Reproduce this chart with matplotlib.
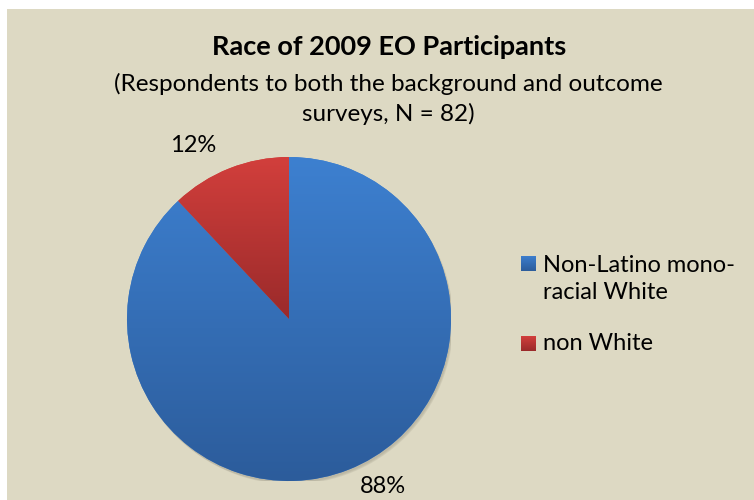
import matplotlib.pyplot as plt
import numpy as np
from matplotlib.colors import LinearSegmentedColormap
from matplotlib.patches import Rectangle, Circle

plt.rcParams['font.family'] = ['Lato', 'DejaVu Sans']

labels = ['Non-Latino mono-\nracial White', 'non White']
shares = [88, 12]
top_colors = ['#3d80d0', '#d23f3c']
bottom_colors = ['#2c5c9b', '#9a2a2a']

title = 'Race of 2009 EO Participants'
subtitle = '(Respondents to both the background and outcome\nsurveys, N = 82)'

W, H = 754, 500
fig = plt.figure(figsize=(W / 100, H / 100), dpi=100, facecolor='white')

# chart area background
bg = fig.add_axes([7 / W, 0, 1 - 7 / W, 1 - 9 / H])
bg.set_facecolor('#ddd9c3')
bg.set_xticks([])
bg.set_yticks([])
for s in bg.spines.values():
    s.set_visible(False)

cx, cy, r = 289, 319, 162
ax = fig.add_axes([(cx - r) / W, (H - cy - r) / H, 2 * r / W, 2 * r / H])
ax.set_xlim(-1.0, 1.0)
ax.set_ylim(-1.0, 1.0)
ax.set_aspect('equal')
ax.axis('off')

# soft drop shadow under the pie
for k, a in enumerate([0.08, 0.08, 0.10]):
    ax.add_patch(Circle((0.006 + 0.004 * k, -0.012 - 0.004 * k), 1.0,
                        color='#5a5647', alpha=a, lw=0, zorder=0))

wedges, _ = ax.pie(shares, startangle=90, counterclock=False, radius=1.0,
                   colors=top_colors, wedgeprops=dict(linewidth=0))

# vertical gradient fill clipped to each slice, light at the top
grad = np.linspace(0, 1, 256).reshape(-1, 1)
for w, c0, c1 in zip(wedges, top_colors, bottom_colors):
    w.set_zorder(1)
    x0, y0, x1, y1 = w.get_path().get_extents(w.get_patch_transform()).extents
    cmap = LinearSegmentedColormap.from_list('g', [c0, c1])
    im = ax.imshow(grad, cmap=cmap, extent=[x0, x1, y0, y1], aspect='auto',
                   origin='upper', zorder=2)
    im.set_clip_path(w)
ax.set_xlim(-1.0, 1.0)
ax.set_ylim(-1.0, 1.0)

ax.text(-0.593, 1.068, f'{shares[1]}%', ha='center', va='center', fontsize=17)
ax.text(0.58, -1.037, f'{shares[0]}%', ha='center', va='center', fontsize=17,
        clip_on=False)

fig.text(389 / W, 1 - 47 / H, title, ha='center', va='center',
         fontsize=19.5, fontweight='bold')
fig.text(388 / W, 1 - 99 / H, subtitle, ha='center', va='center',
         fontsize=17.5, linespacing=1.4)

# legend with small gradient keys
for lab, c0, c1, y in zip(labels, top_colors, bottom_colors, [263, 343]):
    kx = fig.add_axes([521 / W, 1 - (y + 8) / H, 15 / W, 15 / H])
    kx.imshow(grad, cmap=LinearSegmentedColormap.from_list('k', [c0, c1]),
              aspect='auto')
    kx.axis('off')
    if '\n' in lab:
        fig.text(543 / W, 1 - (y + 16) / H, lab, ha='left', va='center',
                 fontsize=17, linespacing=1.4)
    else:
        fig.text(543 / W, 1 - y / H, lab, ha='left', va='center', fontsize=17)

fig.savefig('out.png', dpi=100, facecolor='white')
